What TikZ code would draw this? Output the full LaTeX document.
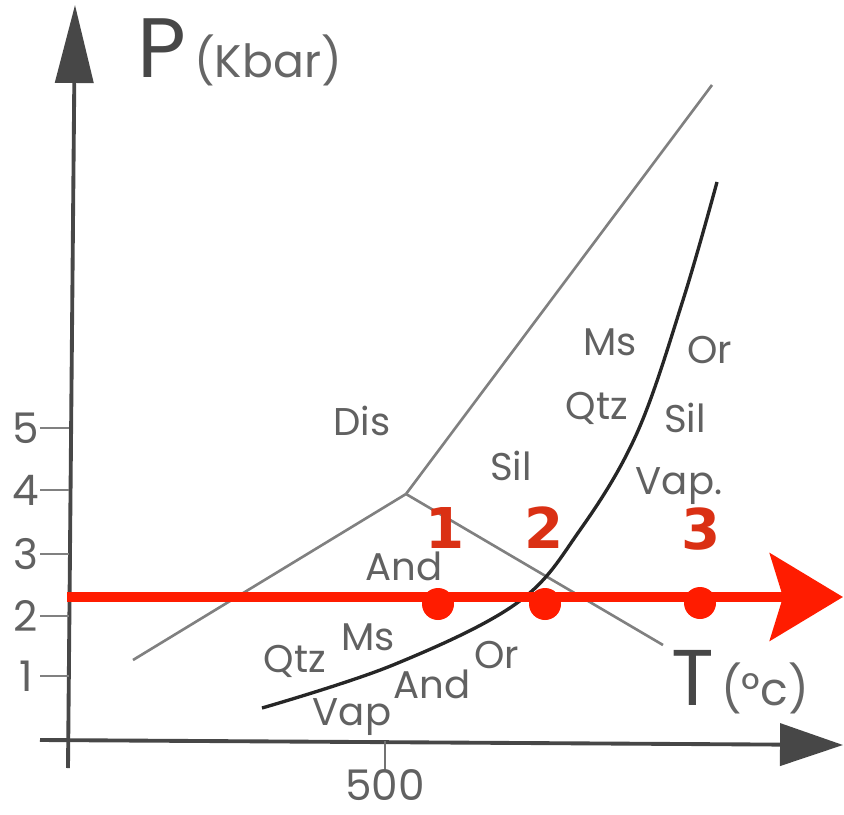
\documentclass[tikz,border=0pt]{standalone}
\usepackage{fontspec}
\setmainfont{Poppins}
\newfontfamily\numfont{DejaVu Sans}
\usetikzlibrary{arrows.meta}
\definecolor{hotred}{RGB}{255,28,0}
\definecolor{numred}{RGB}{218,48,20}
\newcommand{\fs}[1]{\fontsize{#1}{#1}\selectfont}
\newcommand{\degc}{(°c)}

\begin{document}
\begin{tikzpicture}[x=0.02cm,y=-0.02cm,
  axis/.style={line width=2.2pt,black!72},
  phase/.style={line width=1.5pt,black!50},
  melt/.style={line width=1.9pt,black!85},
  lab/.style={anchor=base,inner sep=0pt,text=black!62,font=\fs{22}},
  tick/.style={anchor=base,inner sep=0pt,text=black!62,font=\fs{24}},
  num/.style={anchor=base,inner sep=0pt,text=numred,font=\numfont\bfseries\fs{32}},
  dot/.style={circle,fill=hotred,inner sep=0pt,minimum size=0.64cm}]
  \useasboundingbox (0,0) rectangle (844,814);
  % axes
  \coordinate (Yb) at (68,768);
  \coordinate (Yt) at (75,5);
  \coordinate (Xl) at (40,740);
  \coordinate (Xr) at (843,745);
  \draw[axis,-{Triangle[length=1.56cm,width=0.76cm]}] (Yb) -- (Yt);
  \draw[axis,-{Triangle[length=1.26cm,width=0.84cm]}] (Xl) -- (Xr);
  \foreach \p/\y in {1/676,2/616,3/554,4/490,5/428} {
    \draw[line width=1.3pt,black!50] (40,\y) -- (69,\y);
    \node[tick] (t\p) at (26,\y+15) {\p};
  }
  \draw[line width=1.3pt,black!55] (385,741) -- (385,770);
  \node[tick] (t500) at (385,800) {500};
  \node[anchor=base,inner sep=0pt,text=black!72,font=\fs{48}] (P) at (162,78) {P};
  \node[anchor=base,inner sep=0pt,text=black!60,font=\fs{26}] (kbar) at (268,78) {(Kbar)};
  \node[anchor=base,inner sep=0pt,text=black!72,font=\fs{45}] (T) at (693,705) {T};
  \node[anchor=base,inner sep=0pt,text=black!60,font=\fs{26}] (degc) at (765,705) {\degc};
  % phase boundaries
  \coordinate (TP) at (406,494);
  \coordinate (AK) at (133,660);
  \coordinate (KS) at (712,85);
  \coordinate (AS) at (663,645);
  \draw[phase] (AK) -- (TP);
  \draw[phase] (TP) -- (KS);
  \draw[phase] (TP) -- (AS);
  \draw[melt] plot[smooth,tension=0.6] coordinates {(262,708) (393,665) (517,603)
    (580,530) (637,433) (683,300) (717,182)};
  % field labels
  \node[lab] (dis) at (362,435) {Dis};
  \node[lab] (sil) at (511,480) {Sil};
  \node[lab] (and) at (404,580) {And};
  \node[lab] (msH) at (610,355) {Ms};
  \node[lab] (orH) at (710,363) {Or};
  \node[lab] (qtzH) at (597,419) {Qtz};
  \node[lab] (silH) at (685,432) {Sil};
  \node[lab] (vapH) at (679,494) {Vap.};
  \node[lab] (msL) at (368,650) {Ms};
  \node[lab] (qtzL) at (295,672) {Qtz};
  \node[lab] (orL) at (497,668) {Or};
  \node[lab] (andL) at (432,698) {And};
  \node[lab] (vapL) at (352,725) {Vap};
  % isobaric path
  \coordinate (Rs) at (67,597);
  \coordinate (Re) at (843,597);
  \draw[hotred,line width=5.7pt,-{Stealth[length=1.46cm,width=1.74cm,inset=0.26cm]}] (Rs) -- (Re);
  \node[dot] (d1) at (438,604) {};
  \node[dot] (d2) at (545,604) {};
  \node[dot] (d3) at (700,603) {};
  \node[num] (n1) at (445,548) {1};
  \node[num] (n2) at (544,548) {2};
  \node[num] (n3) at (701,549) {3};
\end{tikzpicture}
\end{document}
